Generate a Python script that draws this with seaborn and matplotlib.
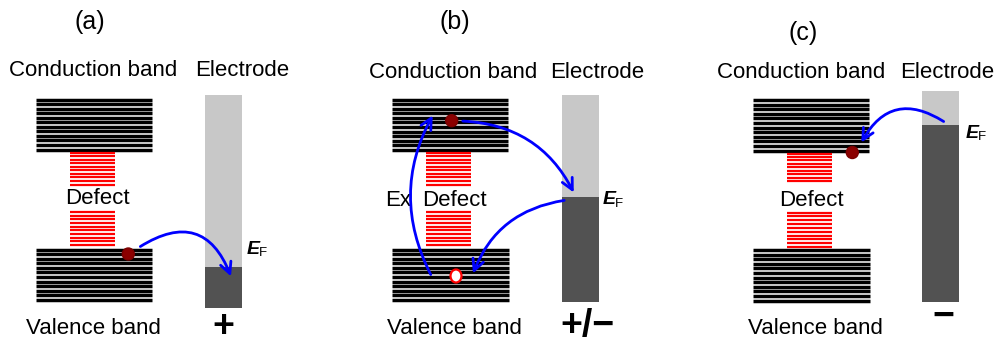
import numpy as np
import matplotlib
matplotlib.use("Agg")
import matplotlib.pyplot as plt
from matplotlib.patches import FancyArrowPatch, Rectangle, Circle, Ellipse
import seaborn as sns

sns.set_theme(style="white")
plt.rcParams['font.family'] = ['Liberation Sans', 'DejaVu Sans']
plt.rcParams['text.color'] = 'black'

# ---------------- data ----------------
panel_labels = ["(a)", "(b)", "(c)"]
panel_label_xy = [(90, 22), (455, 22), (803, 33)]
band_titles = ["Conduction band", "Electrode"]
cond_title_xy = [(93, 71), (453, 72), (801, 73)]
elec_title_xy = [(242, 71), (597, 72), (947, 72)]
valence_xy = [(93, 328), (454, 328), (815, 328)]
defect_xy = [(97, 198), (454, 200), (811, 200)]
charge_labels = ["+", "+/\u2212", "\u2212"]
charge_xy = [(223, 327), (587, 326), (943, 317)]
ef_xy = [(253, 249), (609, 200), (972, 133)]

# band blocks: (x0, x1, y_top, y_bottom, n_lines)
conduction = [(36, 152, 99.5, 149.5, 12), (392, 508, 99.5, 150, 12), (753, 869, 100, 150.5, 12)]
valence = [(36, 152, 249.5, 300, 12), (392, 509, 249.5, 300, 12), (753, 870, 250, 300.5, 12)]
defect_upper = [(70, 115, 152.5, 184.5, 10), (426, 471, 152.5, 184.5, 10), (787, 832, 153.5, 181, 9)]
defect_lower = [(70, 115, 212, 245, 10), (426, 471, 212, 245, 10), (787, 832, 212.5, 247, 10)]

# electrode: (x0, x1, top, fermi, bottom)
electrodes = [(205, 241.5, 95, 267, 307.5), (562, 598.5, 95, 197, 302), (921.5, 958.5, 91, 124.5, 302)]

electrons = [(128.3, 254), (451.7, 120.7), (852.3, 152.5)]
holes = [(456, 276)]

# arrows: (start, end, curvature)
arrows = [((138, 248), (232, 279), -0.62),
          ((460, 121), (575, 195), -0.3),
          ((567, 200), (472, 276), 0.3),
          ((432, 277), (434, 113), -0.27),
          ((946, 123), (860, 145), 0.55)]

# ---------------- figure ----------------
fig = plt.figure(figsize=(9.97, 3.45), dpi=100)
ax = fig.add_axes([0, 0, 1, 1])
ax.set_xlim(0, 997)
ax.set_ylim(345, 0)
ax.axis("off")

def draw_band(block, color, lw):
    x0, x1, yt, yb, n = block
    ys = np.linspace(yt, yb, n)
    ax.hlines(ys, x0, x1, colors=color, linewidth=lw)

for b in conduction + valence:
    draw_band(b, "black", 2.5)
for b in defect_upper + defect_lower:
    draw_band(b, "#ff0000", 1.6)

for (x0, x1, top, ef, bot) in electrodes:
    ax.add_patch(Rectangle((x0, top), x1 - x0, ef - top, facecolor="#c8c8c8", edgecolor="none"))
    ax.add_patch(Rectangle((x0, ef), x1 - x0, bot - ef, facecolor="#525252", edgecolor="none"))

for (s, e, r) in arrows:
    ax.add_patch(FancyArrowPatch(s, e, connectionstyle=f"arc3,rad={r}",
                                 arrowstyle="->,head_length=8,head_width=4",
                                 color="#0000ff", linewidth=2.0, zorder=5))

for (x, y) in electrons:
    ax.add_patch(Circle((x, y), 6, facecolor="#8b0000", edgecolor="#7a0000", zorder=6))
for (x, y) in holes:
    ax.add_patch(Ellipse((x, y), 11, 13, facecolor="white", edgecolor="#ff0000", linewidth=1.6, zorder=6))

fs = 16
for i in range(3):
    ax.text(*panel_label_xy[i], panel_labels[i], fontsize=18, ha="center", va="center", color="black")
    ax.text(*cond_title_xy[i], band_titles[0], fontsize=fs, ha="center", va="center", color="black")
    ax.text(*elec_title_xy[i], band_titles[1], fontsize=fs, ha="center", va="center", color="black")
    ax.text(*valence_xy[i], "Valence band", fontsize=fs, ha="center", va="center", color="black")
    ax.text(*defect_xy[i], "Defect", fontsize=fs, ha="center", va="center", color="black")
    ax.text(*charge_xy[i], charge_labels[i], fontsize=27, fontweight="bold", ha="center", va="center", color="black")
    ex, ey = ef_xy[i]
    ax.text(ex, ey, "E", fontsize=14, fontweight="bold", fontstyle="italic", ha="center", va="center", color="black")
    ax.text(ex + 10, ey + 4, "F", fontsize=9.5, ha="center", va="center", color="black")

ax.text(398, 200, "Ex", fontsize=fs, ha="center", va="center", color="black")

fig.savefig("out.png", dpi=100)
